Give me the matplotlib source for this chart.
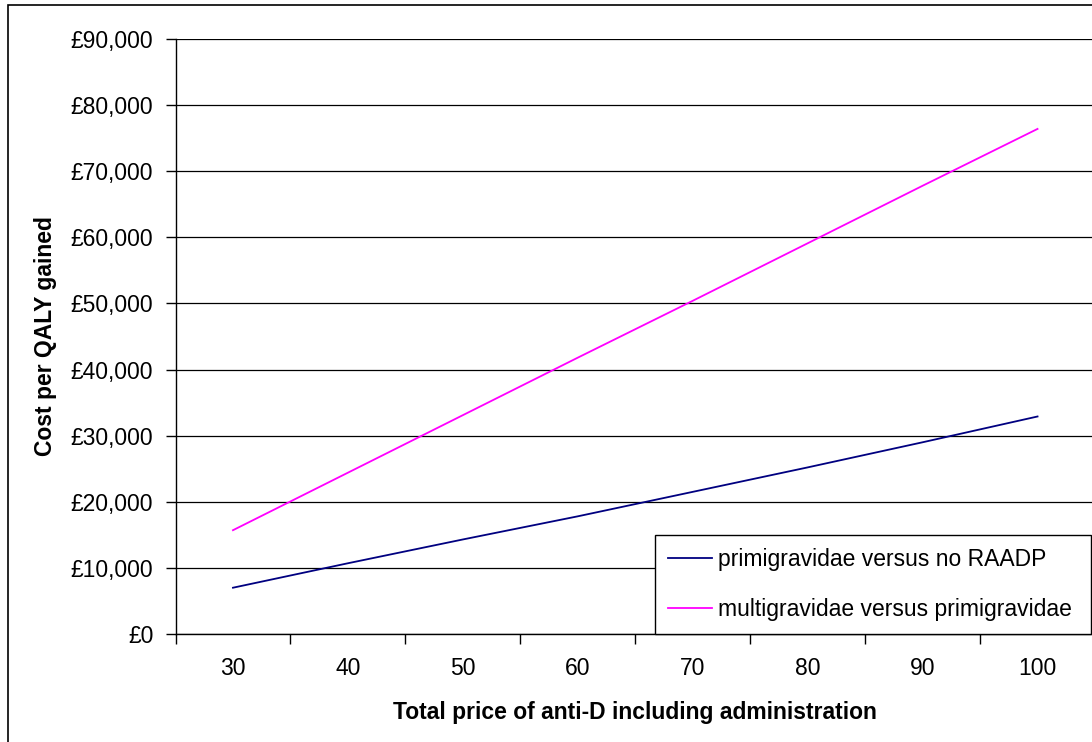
import matplotlib.pyplot as plt
from matplotlib.patches import Rectangle
from matplotlib.ticker import FuncFormatter

plt.rcParams['font.family'] = ['Liberation Sans', 'DejaVu Sans']

# total price of anti-D (categories on x axis)
precios = [30, 40, 50, 60, 70, 80, 90, 100]
# cost per QALY gained
primi = [7000, 10700, 14300, 17800, 21500, 25200, 29000, 32900]
multi = [15700, 24400, 33100, 41800, 50400, 59100, 67800, 76400]

W, H = 1092, 742
fs = 16.5
fig = plt.figure(figsize=(W / 100, H / 100), dpi=100)

# plot area in pixels: left 175.5, right 1095, top 39, bottom 634
x0, x1, y0, y1 = 175.5, 1095, 39, 634
ax = fig.add_axes([x0 / W, 1 - y1 / H, (x1 - x0) / W, (y1 - y0) / H])

idx = range(len(precios))
ax.plot(idx, primi, color='#000080', lw=1.3, label='primigravidae versus no RAADP')
ax.plot(idx, multi, color='#FF00FF', lw=1.3, label='multigravidae versus primigravidae')

ax.set_xlim(-0.5, len(precios) - 0.5)
ax.set_ylim(0, 90000)
ax.set_yticks(range(0, 90001, 10000))
ax.yaxis.set_major_formatter(FuncFormatter(lambda v, p: '£{:,.0f}'.format(v)))
ax.set_xticks(list(idx))
ax.set_xticklabels([str(p) for p in precios])
ax.set_xticks([i + 0.5 for i in range(-1, len(precios))], minor=True)

ax.grid(axis='y', color='black', lw=0.9)
ax.set_axisbelow(True)
for s in ['top', 'right']:
    ax.spines[s].set_visible(False)
for s in ['left', 'bottom']:
    ax.spines[s].set_color('black')
    ax.spines[s].set_linewidth(1.0)

ax.tick_params(axis='y', which='major', length=7, width=1, labelsize=fs, pad=9)
ax.tick_params(axis='x', which='major', length=0, labelsize=fs, pad=16.5)
ax.tick_params(axis='x', which='minor', length=7, width=1, direction='out')

ax.set_xlabel('Total price of anti-D including administration', fontsize=fs,
              fontweight='bold', labelpad=15)
ax.set_ylabel('Cost per QALY gained', fontsize=fs, fontweight='bold', labelpad=10)

leg = ax.legend(loc='lower left', bbox_to_anchor=(655 / W, 1 - 634 / H, 436 / W, 101 / H),
                bbox_transform=fig.transFigure, mode='expand', fontsize=fs,
                frameon=True, fancybox=False, edgecolor='black', framealpha=1,
                borderaxespad=0, handlelength=1.95, handletextpad=0.25,
                labelspacing=1.2, borderpad=0.55)
leg.get_frame().set_linewidth(1.0)

# outer chart border
fig.patches.append(Rectangle((8 / W, -0.05), 1.1, 1 - 5 / H + 0.05, transform=fig.transFigure,
                             fill=False, edgecolor='black', lw=1.2))

fig.savefig('out.png', dpi=100)
